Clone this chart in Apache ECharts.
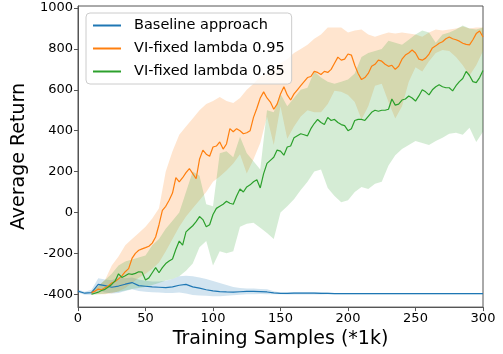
<!DOCTYPE html>
<html>
<head>
<meta charset="utf-8">
<script src="https://cdn.jsdelivr.net/npm/echarts@6/dist/echarts.min.js"></script>
<style>
  html, body { margin: 0; padding: 0; background: #fff; }
  #chart { width: 503px; height: 354px; }
</style>
</head>
<body>
<div id="chart"></div>
<script>
// sample positions (thousands of training samples)
function grid(from, to, step) {
  var out = [];
  for (var v = from; v <= to + 1e-9; v += step) out.push(v);
  return out;
}
var baseX = grid(0, 300, 5);      // baseline line + band
var lineX = grid(10, 300, 2.5);   // VI lines
var bandX = grid(10, 300, 5);     // VI bands

var seriesNames = ['Baseline approach', 'VI-fixed lambda 0.95', 'VI-fixed lambda 0.85'];
var yTicks = [-400, -200, 0, 200, 400, 600, 800, 1000];

// Baseline approach
var baseMean = [-385,-395,-392,-352,-358,-366,-360,-351,-343,-358,
  -361,-364,-366,-368,-364,-356,-352,-364,-370,-378,
  -384,-387,-389,-390,-388,-386,-386,-387,-389,-393,
  -396,-396,-395,-395,-395,-395,-396,-396,-397,-397,
  -397,-397,-397,-397,-397,-397,-397,-397,-397,-397,
  -397,-397,-397,-397,-397,-397,-397,-397,-397,-397,-397];
var baseHi = [-378,-388,-378,-322,-328,-332,-318,-322,-318,-328,
  -334,-338,-338,-334,-326,-312,-310,-312,-318,-326,
  -335,-345,-355,-365,-370,-372,-372,-374,-376,-386,
  -392,-391,-389,-389,-389,-389,-390,-392,-394,-394,
  -394,-394,-394,-394,-394,-394,-394,-394,-394,-394,
  -394,-394,-394,-394,-394,-394,-394,-394,-394,-394,-394];
var baseLo = [-392,-402,-402,-382,-392,-396,-394,-384,-376,-384,
  -388,-390,-392,-394,-394,-392,-396,-404,-406,-408,
  -410,-410,-408,-405,-403,-400,-400,-399,-400,-400,
  -400,-401,-401,-401,-401,-401,-401,-400,-400,-400,
  -400,-400,-400,-400,-400,-400,-400,-400,-400,-400,
  -400,-400,-400,-400,-400,-400,-400,-400,-400,-400,-400];

// VI-fixed lambda 0.95
var l95Mean = [-392,-385,-375,-378,-368,-360,-345,-338,-325,-310,
  -290,-275,-225,-200,-185,-178,-172,-165,-150,-120,
  -60,10,30,60,95,170,150,170,195,215,
  190,165,260,305,285,275,320,325,345,310,
  335,410,395,410,400,385,390,400,465,510,
  560,590,560,540,505,530,580,615,575,550,
  580,600,620,640,660,665,690,685,675,690,
  685,700,730,760,745,750,775,770,720,680,
  650,660,680,715,725,745,740,725,715,720,
  700,715,750,770,780,795,780,750,745,755,
  775,805,815,828,835,850,858,850,845,838,
  828,822,820,845,875,888,858];
var l95Hi = [-385,-360,-330,-260,-215,-160,-130,-100,-70,-30,
  20,200,300,380,420,460,500,530,545,565,
  545,535,560,600,630,665,680,710,730,750,
  780,800,820,850,870,905,905,905,880,890,
  895,870,860,870,880,875,880,875,870,860,
  880,895,890,895,900,910,900,905,905];
var l95Lo = [-400,-400,-400,-395,-385,-370,-345,-320,-300,-275,
  -245,-190,-130,-70,-20,20,60,100,150,176,
  205,240,285,190,260,340,470,330,520,360,
  420,470,500,490,490,530,595,590,575,540,
  455,520,620,630,540,460,520,640,710,690,
  740,780,795,790,760,720,670,720,790];

// VI-fixed lambda 0.85
var l85Mean = [-400,-395,-390,-382,-376,-365,-352,-335,-300,-318,
  -310,-300,-303,-298,-290,-292,-330,-320,-295,-270,
  -295,-270,-250,-238,-228,-180,-140,-160,-95,-80,
  -65,-45,-20,-35,-70,-60,-10,20,30,40,
  55,45,40,80,115,100,125,135,150,160,
  120,190,240,255,270,305,300,280,320,325,
  365,375,385,380,375,410,435,455,440,430,
  465,450,455,440,430,425,400,410,450,455,
  455,450,470,490,500,495,500,500,505,555,
  525,530,550,555,570,560,545,570,600,590,
  575,600,615,625,615,610,610,595,620,640,
  655,690,670,640,635,660,695];
var l85Hi = [-385,-360,-330,-300,-260,-240,-230,-220,-210,-160,
  -130,-80,-40,0,100,200,180,40,30,290,
  300,270,370,290,250,210,500,490,580,520,
  560,600,610,690,660,640,630,640,650,680,
  760,780,790,800,840,830,820,845,870,890,
  880,830,870,880,895,915,900,895,905];
var l85Lo = [-402,-400,-398,-392,-388,-382,-375,-370,-365,-355,
  -345,-333,-325,-312,-285,-250,-170,-140,-260,-190,
  -200,-190,-70,-55,-50,-75,-100,-130,0,30,
  65,110,150,200,210,120,80,50,60,100,
  125,115,140,150,230,280,310,330,350,340,
  330,350,365,385,390,380,415,345,395];

var colors = ['#1f77b4', '#ff7f0e', '#2ca02c'];
var fills = ['rgba(31,119,180,0.2)', 'rgba(255,127,14,0.2)', 'rgba(44,160,44,0.2)'];

function pairs(xs, ys) {
  return xs.map(function (x, i) { return [x, ys[i]]; });
}

// shaded band between lo and hi, placed with the axes' own coord()
function band(xs, lo, hi, fill) {
  return {
    type: 'custom',
    silent: true,
    z: 1,
    data: [[xs[0], lo[0]]],
    renderItem: function (params, api) {
      var pts = [];
      for (var i = 0; i < xs.length; i++) pts.push(api.coord([xs[i], hi[i]]));
      for (var j = xs.length - 1; j >= 0; j--) pts.push(api.coord([xs[j], lo[j]]));
      return { type: 'polygon', shape: { points: pts }, style: { fill: fill } };
    }
  };
}

function line(name, xs, ys, color) {
  return {
    name: name,
    type: 'line',
    z: 3,
    symbol: 'none',
    showSymbol: false,
    data: pairs(xs, ys),
    lineStyle: { color: color, width: 1.2 },
    itemStyle: { color: color }
  };
}

var chart = echarts.init(document.getElementById('chart'));
var font = 'DejaVu Sans';
var option = {
  animation: false,
  textStyle: { fontFamily: font },
  grid: {
    left: 78, right: 20, top: 6, bottom: 46,
    show: true, borderColor: '#555', borderWidth: 1
  },
  legend: {
    orient: 'vertical',
    left: 86, top: 13,
    padding: [5, 7, 5, 6],
    itemGap: 8,
    itemWidth: 28,
    itemHeight: 14,
    itemStyle: { opacity: 0 },
    backgroundColor: 'rgba(255,255,255,0.8)',
    borderColor: '#ccc',
    borderWidth: 1,
    borderRadius: 4,
    data: seriesNames,
    textStyle: { fontSize: 14.5, color: '#000', fontFamily: font, padding: [0, 0, 0, 8] }
  },
  xAxis: {
    type: 'value',
    min: 0, max: 300, interval: 50,
    name: 'Training Samples (*1k)',
    nameLocation: 'middle',
    nameGap: 20,
    nameTextStyle: { fontSize: 19, color: '#000', fontFamily: font, verticalAlign: 'top' },
    axisLine: { show: true, onZero: false, lineStyle: { color: '#555' } },
    axisTick: { show: true, length: 4, lineStyle: { color: '#555' } },
    axisLabel: { fontSize: 13, color: '#000', margin: 5, fontFamily: font },
    splitLine: { show: false }
  },
  yAxis: {
    type: 'value',
    min: -463, max: 1010,
    name: 'Average Return',
    nameLocation: 'middle',
    nameGap: 35,
    nameTextStyle: { fontSize: 19, color: '#000', fontFamily: font },
    axisLine: { show: true, onZero: false, lineStyle: { color: '#555' } },
    axisTick: { show: true, length: 4, customValues: yTicks, lineStyle: { color: '#555' } },
    axisLabel: {
      fontSize: 13, color: '#000', margin: 5, fontFamily: font, customValues: yTicks,
      formatter: function (v) { return String(v); }
    },
    splitLine: { show: false }
  },
  series: [
    band(baseX, baseLo, baseHi, fills[0]),
    band(bandX, l95Lo, l95Hi, fills[1]),
    band(bandX, l85Lo, l85Hi, fills[2]),
    line(seriesNames[0], baseX, baseMean, colors[0]),
    line(seriesNames[1], lineX, l95Mean, colors[1]),
    line(seriesNames[2], lineX, l85Mean, colors[2])
  ]
};
chart.setOption(option);
</script>
</body>
</html>
